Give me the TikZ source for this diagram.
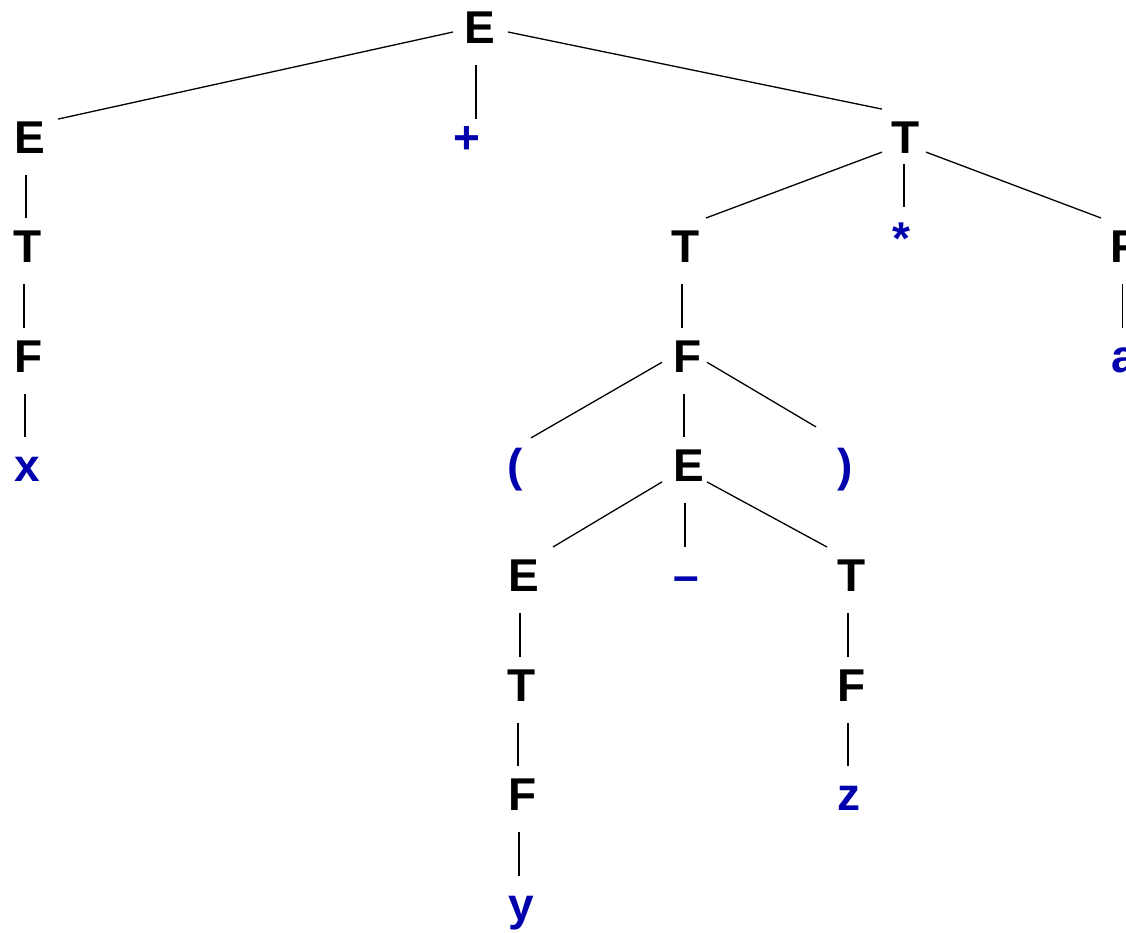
\documentclass[tikz,border=0pt]{standalone}
\usepackage{fontspec}
\setmainfont{Liberation Sans}
\usetikzlibrary{calc}

\definecolor{termblue}{RGB}{0,0,172}

% vertical link: [x offset]{parent}{child}{start below parent baseline}{end relative to child baseline}
\newcommand\vlink[5][-4]{%
  \draw[edge] ($(#2.base)+(#1,#4)$) -- ($(#2.base |- #3.base)+(#1,#5)$);}
% slanted link: {parent}{child}{offset at parent}{offset at child}
\newcommand\slink[4]{%
  \draw[edge] ($(#1.base)+(#3)$) -- ($(#2.base)+(#4)$);}

\begin{document}
\begin{tikzpicture}[x=1pt,y=-1pt,
  sym/.style={anchor=base,inner sep=0pt,text height=33pt,text depth=0pt,
    font=\fontsize{46}{50}\selectfont\bfseries},
  nt/.style={sym,text=black},
  tm/.style={sym,text=termblue},
  edge/.style={draw=black,line width=1.3pt}]

\fill[white] (0,0) rectangle (1126,933);
\useasboundingbox (0,0) rectangle (1126,933);
\clip (0,0) rectangle (1126,933);

% row baselines: 43.5 + 109.6 k
% row 0
\node[nt] (Etop) at (480,43.5) {E};
% row 1
\node[nt] (E1)   at (30,153.1)  {E};
\node[tm] (plus) at (467,153.1) {+};
\node[nt] (T1)   at (906,153.1) {T};
% row 2
\node[nt] (T2)   at (28,262.7)   {T};
\node[nt] (T3)   at (686,262.7)  {T};
\node[tm] (star) at (901,254.7)  {*};
\node[nt] (F4)   at (1125,262.7) {F};
% row 3
\node[nt] (F2)   at (29,372.3)   {F};
\node[nt] (F3)   at (688,372.3)  {F};
\node[tm] (a)    at (1124,372.3) {a};
% row 4
\node[tm] (x)    at (27,481.9)  {x};
\node[tm] (lp)   at (515,481.9) {(};
\node[nt] (E4)   at (689,481.9) {E};
\node[tm] (rp)   at (845,481.9) {)};
% row 5
\node[nt] (E5)    at (524,591.5) {E};
\node[tm] (minus) at (686,591.5) {–};
\node[nt] (T5)    at (852,591.5) {T};
% row 6
\node[nt] (T6)   at (522,701.1) {T};
\node[nt] (F6)   at (852,701.1) {F};
% row 7
\node[nt] (F7)   at (523,810.7) {F};
\node[tm] (z)    at (849,810.7) {z};
% row 8
\node[tm] (y)    at (521,920.3) {y};

% slanted links
\slink{Etop}{E1}{-27,-11.5}{28,-34}
\slink{Etop}{T1}{28,-11.5}{-24,-44}
\slink{T1}{T3}{-24,-1}{20,-44.7}
\slink{T1}{F4}{20,-1}{-24,-44.7}
\slink{F3}{lp}{-26,-10}{16,-44}
\slink{F3}{rp}{19,-10}{-29,-55}
\slink{E4}{E5}{-27,0}{29,-44.5}
\slink{E4}{T5}{18,0}{-25,-44.5}

% vertical links
\vlink{Etop}{plus}{21.5}{-34}
\vlink{E1}{T2}{21.5}{-44.5}
\vlink{T2}{F2}{21.5}{-44.5}
\vlink{F2}{x}{21.5}{-44.5}
\vlink[-2]{T1}{star}{11}{-47.5}
\vlink{T3}{F3}{21.5}{-44.5}
\vlink{F3}{E4}{21.5}{-44.5}
\vlink{E4}{minus}{21.5}{-44.5}
\vlink[-2.5]{F4}{a}{21.5}{-44.5}
\vlink{E5}{T6}{21.5}{-44.5}
\vlink{T6}{F7}{21.5}{-44.5}
\vlink{F7}{y}{21.5}{-44.5}
\vlink{T5}{F6}{21.5}{-44.5}
\vlink{F6}{z}{21.5}{-44.5}

\end{tikzpicture}
\end{document}
